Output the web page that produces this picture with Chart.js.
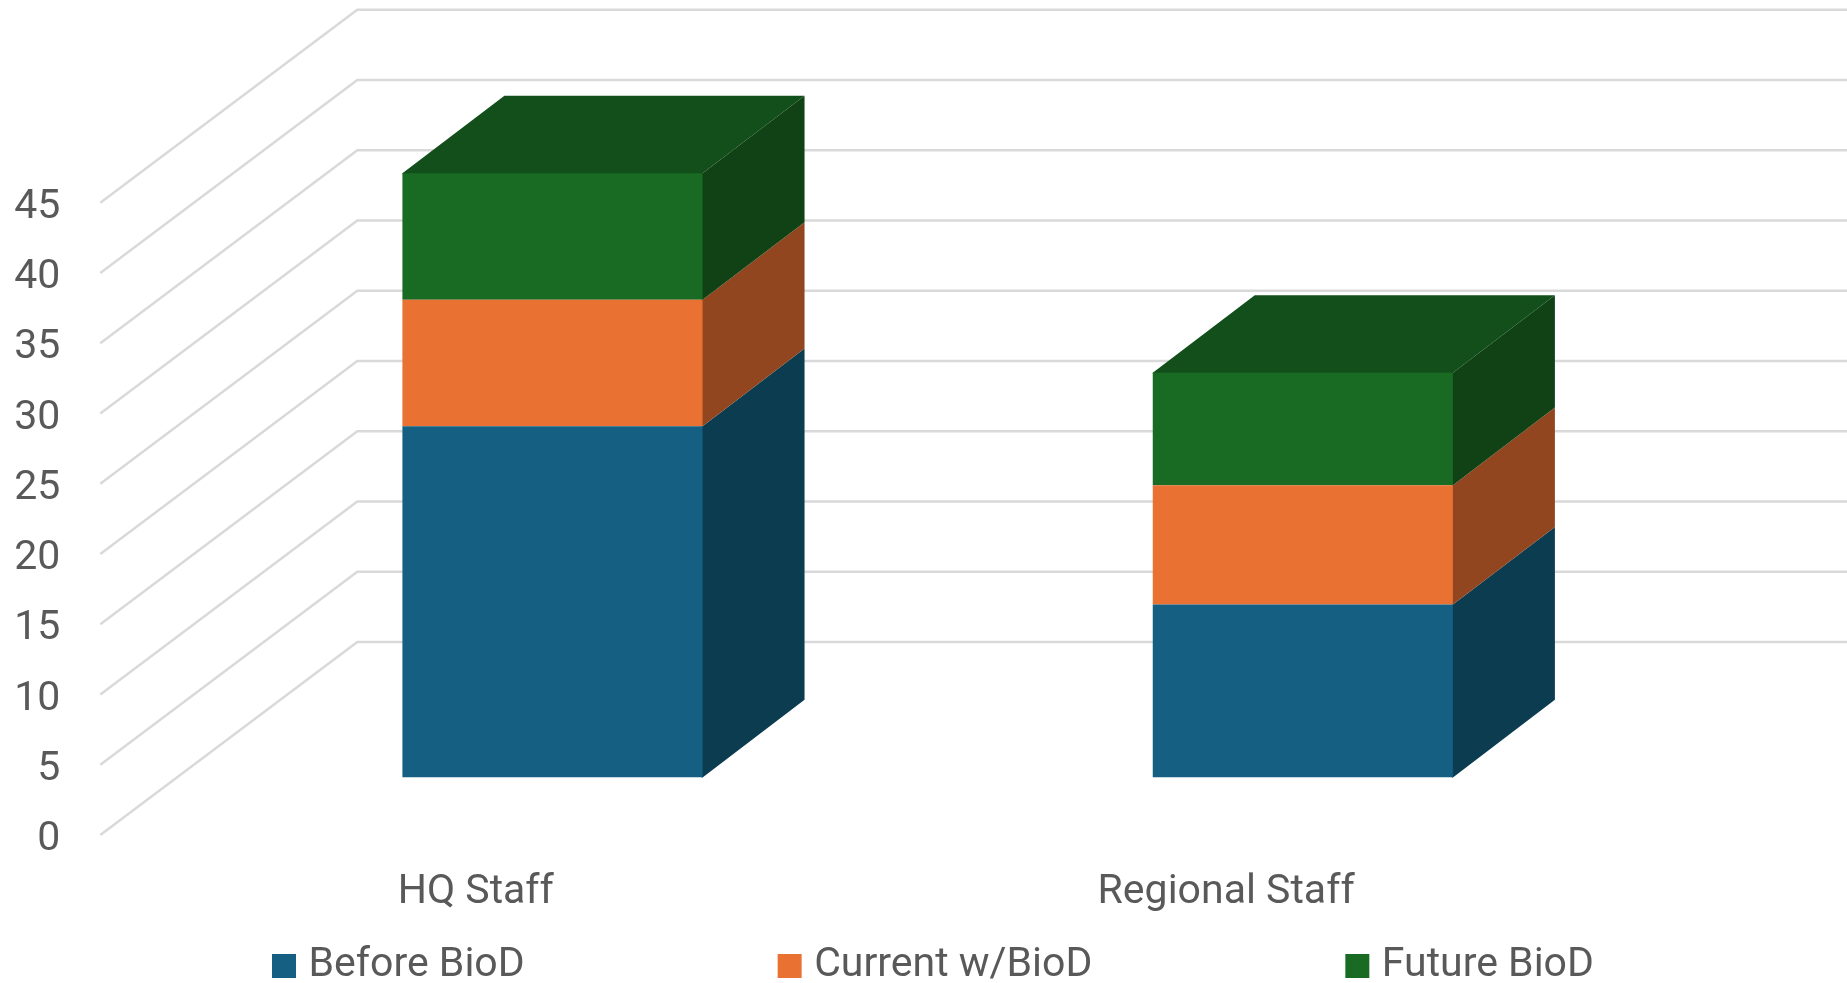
<!DOCTYPE html>
<html>
<head>
<meta charset="utf-8">
<style>html,body{margin:0;padding:0;background:#fff;overflow:hidden}#w{width:1847px;height:983px;position:relative}</style>
<script src="https://cdn.jsdelivr.net/npm/chart.js@4"></script>
</head>
<body>
<div id="w"><canvas id="c"></canvas></div>
<script>
const categories = ['HQ Staff', 'Regional Staff'];
const seriesNames = ['Before BioD', 'Current w/BioD', 'Future BioD'];
const beforeBioD = [25, 12.3];
const currentBioD = [9, 8.5];
const futureBioD = [9, 8];
const seriesValues = [beforeBioD, currentBioD, futureBioD];

const frontColors = ['#156082', '#E97132', '#196B24'];
const sideColors = ['#0C3C50', '#91461F', '#104216'];
const topColor = '#134F1A';
const textColor = '#595959';
const gridColor = '#D9D9D9';
const fontFamily = 'Roboto, sans-serif';
const fontSize = 41;

// projection of the 3D box, in pixels
const barDepth = {x: 102, y: 77.6};
const floorFront = {x: 77, y: 57.6};
const floorDepth = {x: 257, y: 193};

const box3d = {
  id: 'box3d',
  afterLayout(chart) {
    const lg = chart.legend, pad = lg.options.labels.padding;
    lg.top = 945.5 - pad;
    lg.bottom = 983;
    lg.right = 1950;
    lg.left = 2 * 280 - pad - lg.right + lg.lineWidths[0];
  },
  beforeDatasetsDraw(chart) {
    const ctx = chart.ctx, y = chart.scales.y, area = chart.chartArea;
    ctx.save();
    ctx.strokeStyle = gridColor;
    ctx.lineWidth = 2.4;
    const x0 = area.left - floorFront.x;
    y.ticks.forEach(t => {
      const py = y.getPixelForValue(t.value) + floorFront.y;
      ctx.beginPath();
      ctx.moveTo(x0, py);
      ctx.lineTo(x0 + floorDepth.x, py - floorDepth.y);
      ctx.lineTo(chart.width + 20, py - floorDepth.y);
      ctx.stroke();
    });
    const last = chart.data.datasets.length - 1;
    chart.data.datasets.forEach((ds, d) => {
      chart.getDatasetMeta(d).data.forEach(bar => {
        const r = bar.x + bar.width / 2, l = bar.x - bar.width / 2;
        if (d === last) {
          ctx.fillStyle = topColor;
          ctx.beginPath();
          ctx.moveTo(l, bar.y + 1);
          ctx.lineTo(l, bar.y);
          ctx.lineTo(l + barDepth.x, bar.y - barDepth.y);
          ctx.lineTo(r + barDepth.x, bar.y - barDepth.y);
          ctx.lineTo(r, bar.y);
          ctx.lineTo(r, bar.y + 1);
          ctx.closePath();
          ctx.fill();
        }
        ctx.fillStyle = sideColors[d];
        ctx.beginPath();
        ctx.moveTo(r - 1, bar.base);
        ctx.lineTo(r, bar.base);
        ctx.lineTo(r + barDepth.x, bar.base - barDepth.y);
        ctx.lineTo(r + barDepth.x, bar.y - barDepth.y);
        ctx.lineTo(r, bar.y);
        ctx.lineTo(r - 1, bar.y);
        ctx.closePath();
        ctx.fill();
      });
    });
    ctx.restore();
  }
};

new Chart(document.getElementById('c'), {
  type: 'bar',
  data: {
    labels: categories,
    datasets: seriesNames.map((name, i) => ({
      label: name,
      data: seriesValues[i],
      backgroundColor: frontColors[i],
      borderWidth: 0,
      categoryPercentage: 0.4,
      barPercentage: 1
    }))
  },
  options: {
    responsive: true,
    maintainAspectRatio: false,
    animation: false,
    layout: {padding: {top: 145.2, right: 169, bottom: 0, left: 0}},
    plugins: {
      title: {display: false},
      tooltip: {enabled: false},
      legend: {
        display: true,
        position: 'bottom',
        maxHeight: 10,
        labels: {
          color: textColor,
          font: {family: fontFamily, size: fontSize},
          boxWidth: 8,
          boxHeight: 8,
          padding: 261,
          generateLabels(chart) {
            return Chart.defaults.plugins.legend.labels.generateLabels(chart).map((it, i) => ({
              ...it, lineWidth: 16, strokeStyle: frontColors[i]
            }));
          }
        }
      }
    },
    scales: {
      x: {
        stacked: true,
        grid: {display: false, drawTicks: false},
        border: {display: false},
        afterFit(s) { s.height = 195.6; },
        ticks: {
          color: textColor,
          font: {family: fontFamily, size: fontSize},
          labelOffset: -76.7,
          padding: 91,
          autoSkip: false,
          maxRotation: 0
        }
      },
      y: {
        stacked: true,
        min: 0,
        max: 45,
        grid: {display: false, drawTicks: false},
        border: {display: false},
        afterFit(s) { s.width = 177.3; },
        ticks: {
          stepSize: 5,
          color: textColor,
          font: {family: fontFamily, size: fontSize},
          labelOffset: 62.5,
          padding: 117
        }
      }
    }
  },
  plugins: [box3d]
});
</script>
</body>
</html>
